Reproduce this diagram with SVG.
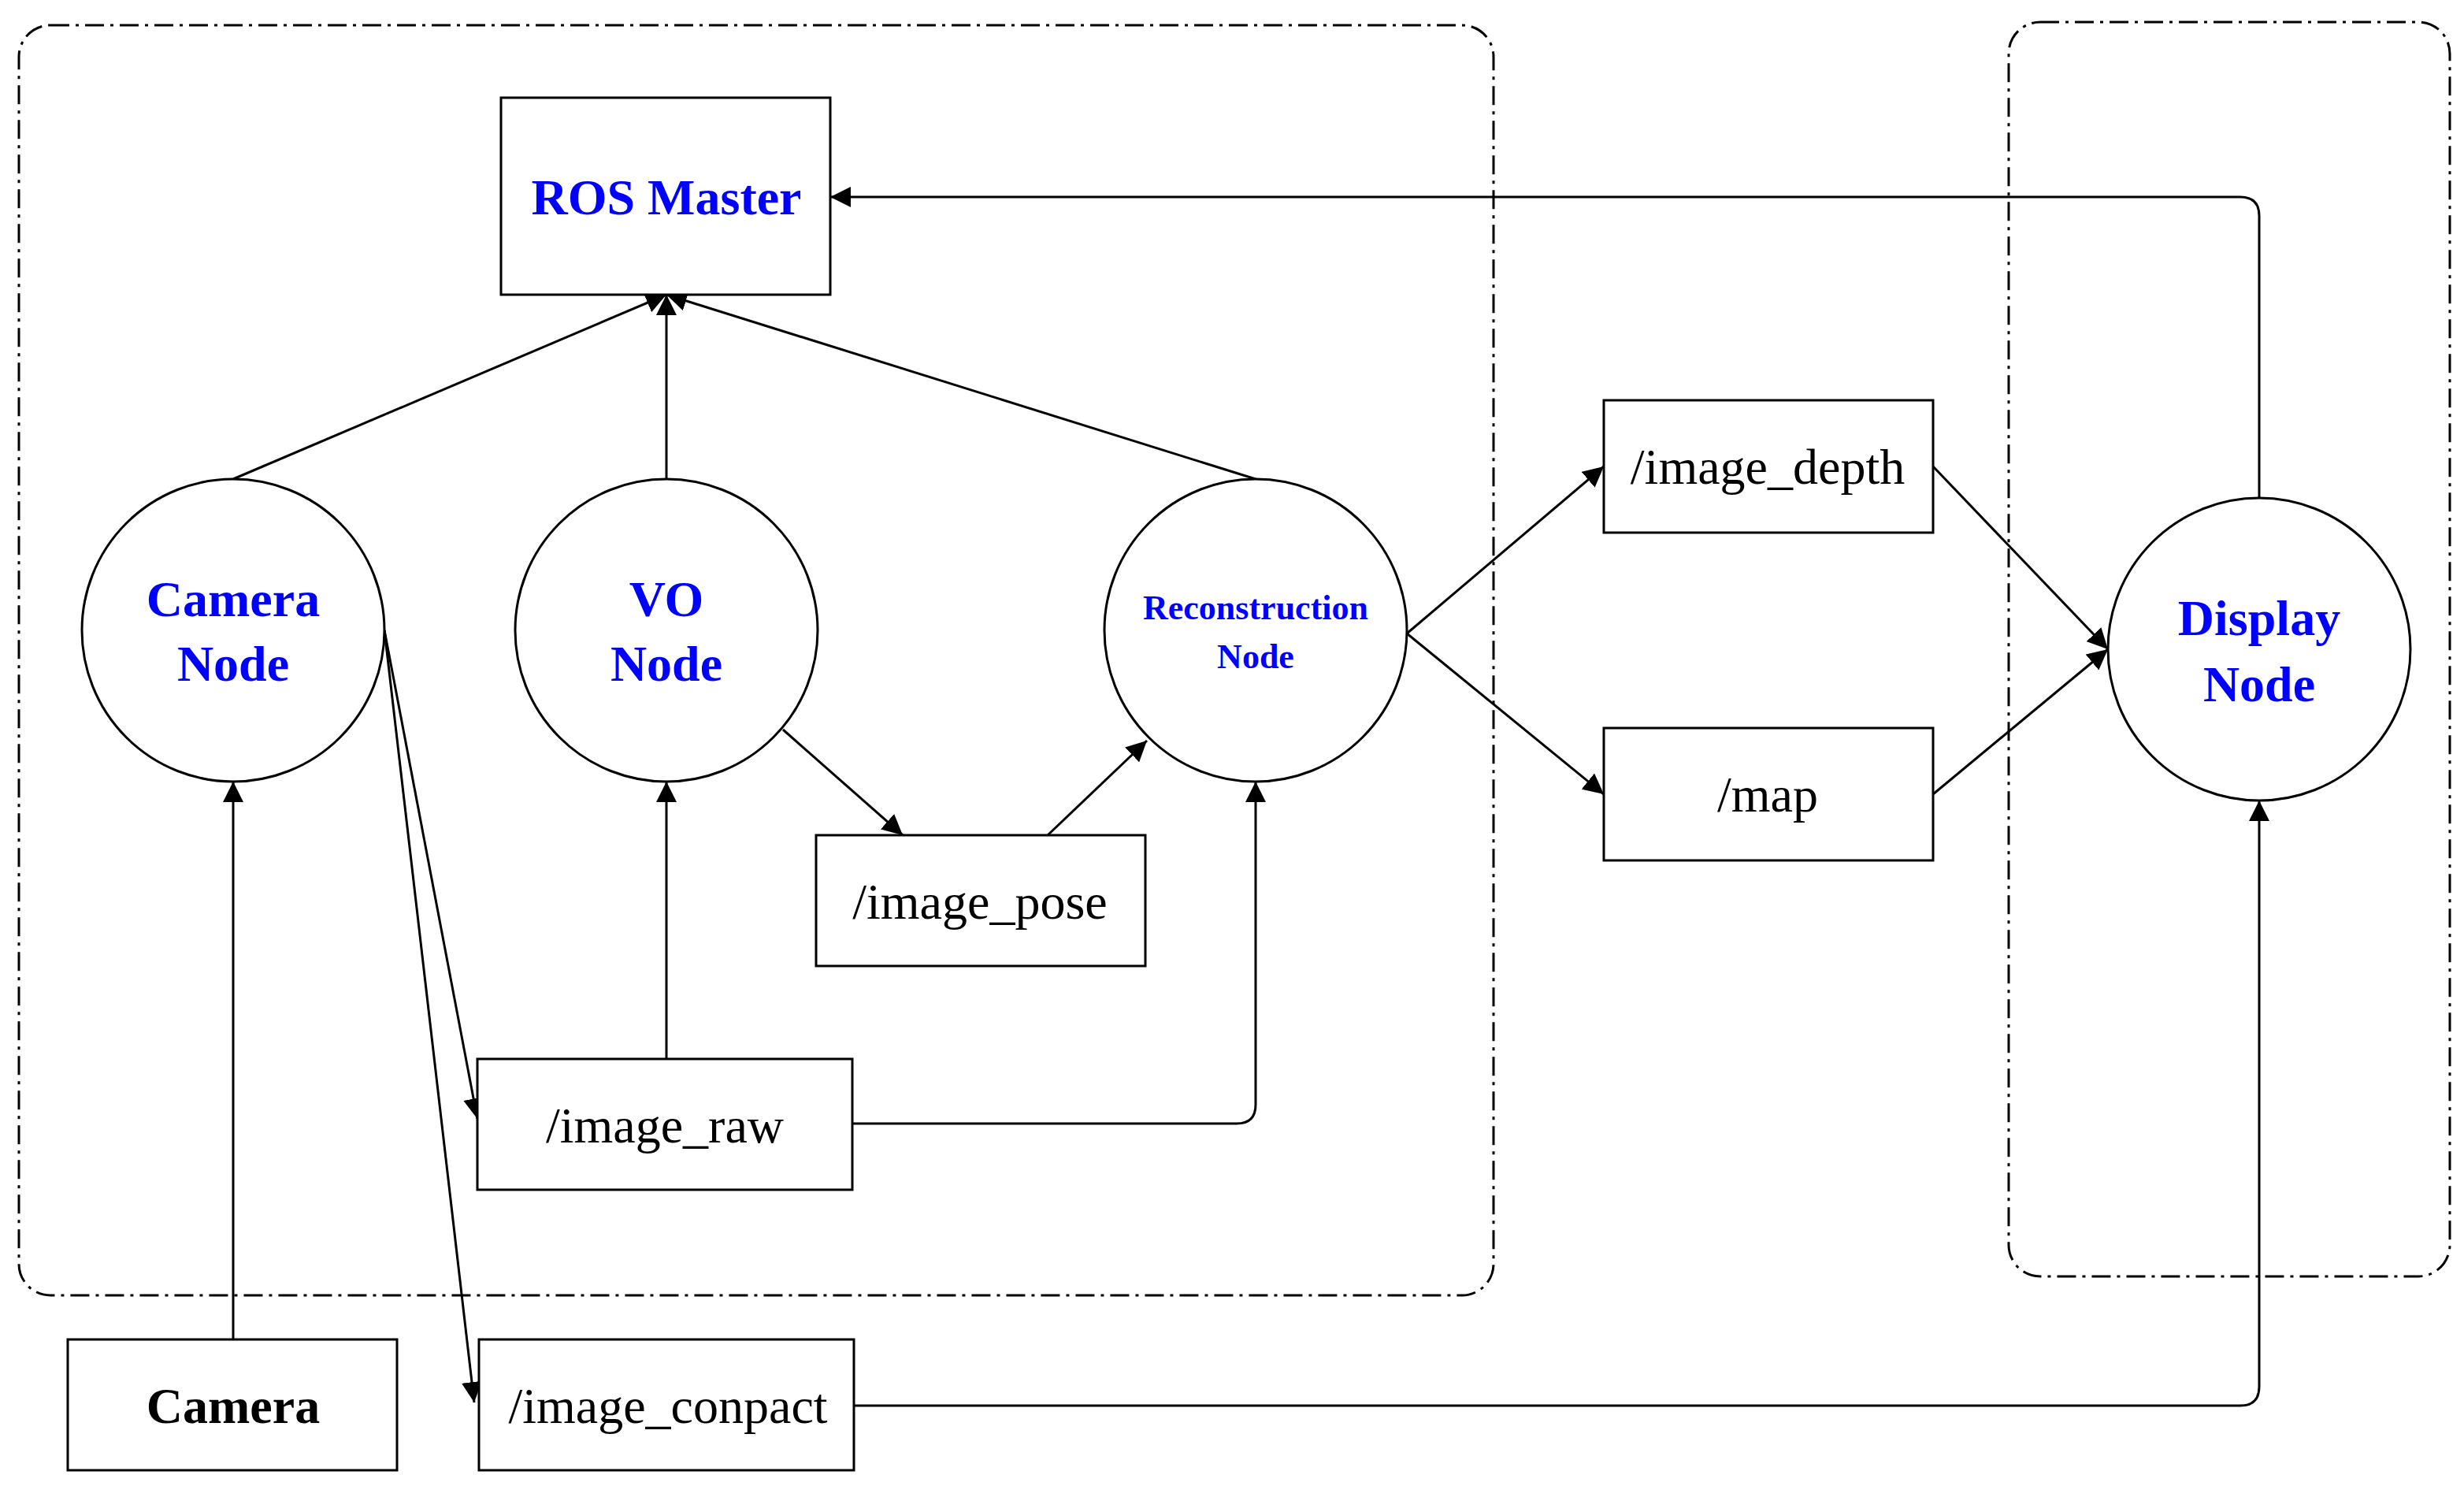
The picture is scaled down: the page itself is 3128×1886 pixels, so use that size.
<svg xmlns="http://www.w3.org/2000/svg" width="3128" height="1886" viewBox="0 0 3128 1886">
<style>
.box{fill:#fff;stroke:#000;stroke-width:1.5}
.frame{fill:none;stroke:#000;stroke-width:1.5;stroke-dasharray:12,4,2,4}
.c{fill:none;stroke:#000;stroke-width:1.5}
.n{font-family:"Liberation Serif",serif;font-weight:bold;fill:#0000ff;text-anchor:middle}
.t{font-family:"Liberation Serif",serif;font-size:32px;fill:#000;text-anchor:middle}
</style>
<defs><marker id="a" viewBox="0 0 10 10" refX="10" refY="5" markerWidth="9" markerHeight="9" markerUnits="userSpaceOnUse" orient="auto"><path d="M0,0L10,5L0,10z"/></marker>
<marker id="b" viewBox="0 0 10 10" refX="10" refY="5" markerWidth="13" markerHeight="13" markerUnits="userSpaceOnUse" orient="auto"><path d="M0,0L10,5L0,10z"/></marker></defs>
<rect width="3128" height="1886" fill="#fff"/>
<g transform="scale(2)">
<rect class="frame" x="12" y="16" width="936" height="806" rx="20"/>
<rect class="frame" x="1275" y="14" width="280" height="796" rx="20"/>
<g id="connectors" marker-end="url(#b)">
<line class="c" x1="148" y1="304" x2="423" y2="187"/>
<line class="c" x1="423" y1="304" x2="423" y2="187"/>
<line class="c" x1="797" y1="304" x2="423" y2="187"/>
<path class="c" d="M1434,316V137Q1434,125 1422,125H527"/>
<line class="c" x1="148" y1="850" x2="148" y2="496"/>
<line class="c" x1="244" y1="400" x2="303" y2="710"/>
<line class="c" x1="244" y1="400" x2="301" y2="890"/>
<line class="c" x1="423" y1="672" x2="423" y2="496"/>
<path class="c" d="M541,713H785Q797,713 797,701V496"/>
<line class="c" x1="497" y1="463" x2="573" y2="530"/>
<line class="c" x1="665" y1="530" x2="728" y2="470"/>
<line class="c" x1="893" y1="402" x2="1018" y2="296"/>
<line class="c" x1="893" y1="402" x2="1018" y2="504"/>
<line class="c" x1="1227" y1="296" x2="1338" y2="412"/>
<line class="c" x1="1227" y1="504" x2="1338" y2="412"/>
<path class="c" d="M542,892H1422Q1434,892 1434,880V508"/>
</g>
<g id="ros"><rect class="box" x="318" y="62" width="209" height="125"/><text class="n" x="423" y="136" font-size="32">ROS Master</text></g>
<g id="camnode"><circle class="box" cx="148" cy="400" r="96"/><text class="n" x="148" y="391" font-size="32">Camera</text><text class="n" x="148" y="432" font-size="32">Node</text></g>
<g id="vonode"><circle class="box" cx="423" cy="400" r="96"/><text class="n" x="423" y="391" font-size="32">VO</text><text class="n" x="423" y="432" font-size="32">Node</text></g>
<g id="recnode"><circle class="box" cx="797" cy="400" r="96"/><text class="n" x="797" y="393" font-size="22">Reconstruction</text><text class="n" x="797" y="424" font-size="22">Node</text></g>
<g id="dispnode"><circle class="box" cx="1434" cy="412" r="96"/><text class="n" x="1434" y="403" font-size="32">Display</text><text class="n" x="1434" y="445" font-size="32">Node</text></g>
<g id="depth"><rect class="box" x="1018" y="254" width="209" height="84"/><text class="t" x="1122" y="307">/image_depth</text></g>
<g id="map"><rect class="box" x="1018" y="462" width="209" height="84"/><text class="t" x="1122" y="515">/map</text></g>
<g id="pose"><rect class="box" x="518" y="530" width="209" height="83"/><text class="t" x="622" y="583">/image_pose</text></g>
<g id="raw"><rect class="box" x="303" y="672" width="238" height="83"/><text class="t" x="422" y="725">/image_raw</text></g>
<g id="camera"><rect class="box" x="43" y="850" width="209" height="83"/><text class="t" x="148" y="903" font-weight="bold">Camera</text></g>
<g id="conpact"><rect class="box" x="304" y="850" width="238" height="83"/><text class="t" x="424" y="903">/image_conpact</text></g>
</g>
</svg>
